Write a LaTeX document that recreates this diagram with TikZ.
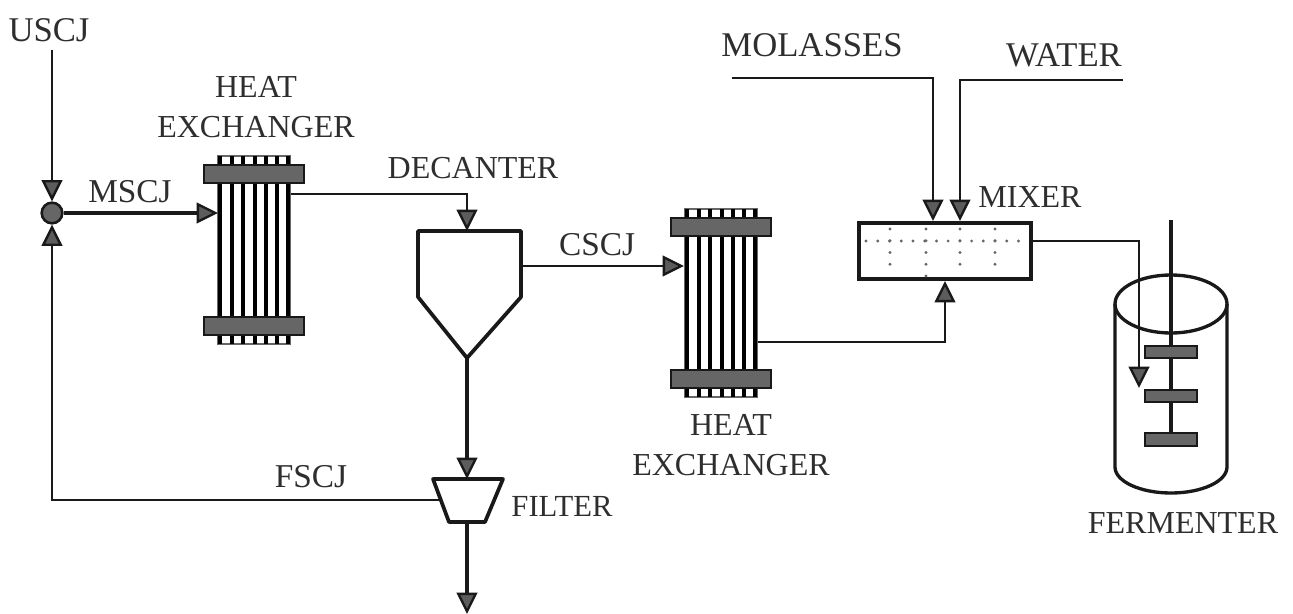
\documentclass[tikz,border=0pt]{standalone}
\usepackage{fontspec}
\setmainfont{Liberation Serif}
\usetikzlibrary{arrows.meta,calc}
\definecolor{headgray}{gray}{0.36}
\definecolor{barrgray}{gray}{0.40}
\definecolor{inkc}{gray}{0.10}
\definecolor{txtc}{gray}{0.18}
\tikzset{
  x=0.75pt,y=-0.75pt,
  lab/.style={font=\fontsize{25}{27}\selectfont,text=txtc,inner sep=0pt,align=center},
  labs/.style={lab,font=\fontsize{24}{27}\selectfont},
  labx/.style={lab,font=\fontsize{23}{27}\selectfont},
  labl/.style={lab,font=\fontsize{26}{27}\selectfont},
  conn/.style={draw=inkc,line width=2.1pt},
  flow/.style={conn,-{Triangle[length=16pt,width=15.5pt,fill=headgray,line width=1.8pt]}},
  heavyflow/.style={flow,line width=2.7pt},
  thick outline/.style={draw=inkc,line width=2.8pt,line join=round},
  bar/.style={draw=inkc,line width=1.6pt,fill=barrgray,minimum width=75pt,minimum height=13.5pt,inner sep=0pt},
  blade/.style={draw=inkc,line width=1.6pt,fill=barrgray},
  hxcore/.style={draw=none,minimum width=54pt,minimum height=142pt,inner sep=0pt},
  junction/.style={circle,draw=inkc,line width=1.9pt,fill=barrgray,minimum size=15.5pt,inner sep=0pt},
  mixerbox/.style={draw=inkc,line width=3pt,fill=white,minimum width=129pt,minimum height=42pt,inner sep=0pt},
  dotline/.style={draw=barrgray,line width=2.4pt,line cap=round,dash pattern=on 0pt off 8.8pt},
  hxpic/.pic={
    \node[hxcore] (-core) at (0,0) {};
    \draw[draw=barrgray,line width=1.4pt] (-36,-94) rectangle (36,94);
    \foreach \dx in {-34,-22.5,-11,0.5,12,23,34}
      \draw[draw=black,line width=3pt] (\dx,-94) -- (\dx,94);
    \node[bar] (-top) at (0,-76) {};
    \node[bar] (-bot) at (0,76) {};
  }
}
\begin{document}
\begin{tikzpicture}
\useasboundingbox (0,0) rectangle (1293,614);
% labels
\node[labl] (uscjlab) at (49,30) {USCJ};
\node[labs] (hxlaba) at (256,107) {HEAT\\[3pt]EXCHANGER};
\node[lab] (mscjlab) at (130,192) {MSCJ};
\node[labs] (declab) at (473,168) {DECANTER};
\node[lab] (cscjlab) at (597,245) {CSCJ};
\node[labs] (hxlabb) at (731,445) {HEAT\\[3pt]EXCHANGER};
\node[lab] (fscjlab) at (311,477) {FSCJ};
\node[labx] (fillab) at (562,506) {FILTER};
\node[labl] (mollab) at (812,45) {MOLASSES};
\node[labl] (watlab) at (1064,55) {WATER};
\node[labs] (mixlab) at (1030,197) {MIXER};
\node[labs] (ferlab) at (1183,523) {FERMENTER};
% equipment
\node[junction] (junc) at (52,213) {};
\pic (hxa) at (254,250) {hxpic};
\pic (hxb) at (721,303) {hxpic};
\coordinate (dectl) at (418,231);
\coordinate (dectm) at (467,231);
\coordinate (dectr) at (521,231);
\coordinate (decmr) at (521,297);
\coordinate (decapex) at (467,358);
\coordinate (decml) at (418,297);
\draw[thick outline,fill=white] (dectl) -- (dectr) -- (decmr) -- (decapex) -- (decml) -- cycle;
\coordinate (filtl) at (433,479);
\coordinate (filtm) at (467,479);
\coordinate (filtr) at (503,479);
\coordinate (filbr) at (485,522);
\coordinate (filbm) at (467,522);
\coordinate (filbl) at (449,522);
\coordinate (filside) at (441,500);
\draw[thick outline,fill=white] (filtl) -- (filtr) -- (filbr) -- (filbl) -- cycle;
\node[mixerbox] (mixer) at (945,251) {};
\draw[dotline] (866,241) -- (1022,241);
\foreach \xx/\yy in {890/270,926/278,960/270,995/270}
  \draw[dotline] (\xx,229) -- (\xx,\yy);
% fermenter
\draw[draw=inkc,line width=2.5pt] (1115,304) -- (1115,467) arc[start angle=180,end angle=0,x radius=56,y radius=26] -- (1227,304);
\draw[draw=inkc,line width=2.5pt] (1171,304) ellipse[x radius=56,y radius=29];
\coordinate (shafttop) at (1171,220);
\coordinate (shaftbot) at (1171,440);
\draw[draw=inkc,line width=2.5pt] (shafttop) -- (shaftbot);
\draw[blade] (1145,346) rectangle (1197,358);
\draw[blade] (1145,390) rectangle (1197,402);
\draw[blade] (1145,433) rectangle (1197,446);
% free ends
\coordinate (uscjstart) at (52,50);
\coordinate (bend) at (52,500);
\coordinate (hxaout) at (291,194);
\coordinate (decbend) at (467,194);
\coordinate (cscjstart) at (521,266);
\coordinate (hxain) at (218,213);
\coordinate (hxbin) at (684,266);
\coordinate (hxbout) at (758,342);
\coordinate (mixbot) at (945,281);
\coordinate (molstart) at (732,78);
\coordinate (molbend) at (933,78);
\coordinate (moltip) at (933,221);
\coordinate (watstart) at (1123,80);
\coordinate (watbend) at (960,80);
\coordinate (wattip) at (960,221);
\coordinate (mixout) at (1032,241);
\coordinate (ferbend) at (1139,241);
\coordinate (fertip) at (1139,388);
\coordinate (drain) at (467,614);
% connectors
\draw[flow] (uscjstart) -- (junc.north);
\draw[heavyflow] (junc.east) -- (hxain);
\draw[flow] (filside) -- (bend) -- (junc.south);
\draw[flow] (hxaout) -- (decbend) -- (dectm);
\draw[heavyflow] (decapex) -- (filtm);
\draw[heavyflow] (filbm) -- (drain);
\draw[flow] (cscjstart) -- (hxbin);
\draw[flow] (hxbout) -| (mixbot);
\draw[flow] (molstart) -- (molbend) -- (moltip);
\draw[flow] (watstart) -- (watbend) -- (wattip);
\draw[flow] (mixout) -- (ferbend) -- (fertip);
\end{tikzpicture}
\end{document}
